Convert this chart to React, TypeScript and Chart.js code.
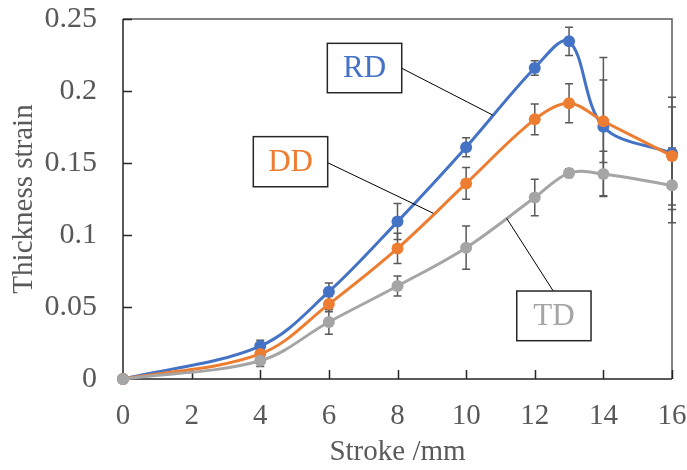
import React, { useEffect, useRef } from "react";
import { Chart, registerables } from "chart.js";

Chart.register(...registerables);

// ---- data ----
const strokeMm = [0, 4, 6, 8, 10, 12, 13, 14, 16];
const rdStrain = [0, 0.0229, 0.0606, 0.1093, 0.161, 0.216, 0.2345, 0.1752, 0.1567];
const ddStrain = [0, 0.0174, 0.052, 0.0907, 0.1358, 0.1803, 0.1915, 0.179, 0.1549];
const tdStrain = [0, 0.0127, 0.0396, 0.0646, 0.0912, 0.126, 0.143, 0.1424, 0.1345];
const rdError = [0, 0.004, 0.006, 0.0125, 0.0066, 0.005, 0.0098, 0.048, 0.039];
const ddError = [0, 0.002, 0.0053, 0.0105, 0.011, 0.0106, 0.0135, 0.0286, 0.034];
const tdError = [0, 0.004, 0.0085, 0.007, 0.015, 0.0127, 0.003, 0.0157, 0.026];
const seriesNames = ["RD", "DD", "TD"];
const xTickValues = [0, 2, 4, 6, 8, 10, 12, 14, 16];
const yTickValues = [0, 0.05, 0.1, 0.15, 0.2, 0.25];
const yTickLabels = ["0", "0.05", "0.1", "0.15", "0.2", "0.25"];
const xTitle = "Stroke /mm";
const yTitle = "Thickness strain";

// ---- styles ----
const COLORS = ["#4472C4", "#ED7D31", "#A5A5A5"];
const FONT = "'Liberation Serif', 'Times New Roman', serif";
const TEXT_COLOR = "#595959";

// annotation callouts (data coordinates)
const callouts = [
  { name: seriesNames[0], color: COLORS[0], box: [5.955, 0.2331, 8.123, 0.1988], line: [8.123, 0.2158, 10.775, 0.1833] },
  { name: seriesNames[1], color: COLORS[1], box: [3.798, 0.1683, 5.966, 0.1335], line: [5.966, 0.1502, 9.044, 0.1151] },
  { name: seriesNames[2], color: COLORS[2], box: [11.475, 0.0611, 13.64, 0.0266], line: [12.54, 0.0611, 11.18, 0.1116] },
];

const errorSets = [rdError, ddError, tdError];
const valueSets = [rdStrain, ddStrain, tdStrain];

const zeroPad = (s: any) => {
  s.paddingTop = 0;
  s.paddingBottom = 0;
  s.paddingLeft = 0;
  s.paddingRight = 0;
};

const framePlugin = {
  id: "frame",
  beforeDatasetsDraw(chart: any) {
    const { ctx, chartArea: a, scales } = chart;
    const xs = scales.x;
    const ys = scales.y;
    ctx.save();
    // top & right border
    ctx.strokeStyle = "#595959";
    ctx.lineWidth = 1.5;
    ctx.beginPath();
    ctx.moveTo(a.left, a.top);
    ctx.lineTo(a.right, a.top);
    ctx.lineTo(a.right, a.bottom);
    ctx.stroke();
    // axes
    ctx.strokeStyle = "#262626";
    ctx.lineWidth = 1.5;
    ctx.beginPath();
    ctx.moveTo(a.left, a.top);
    ctx.lineTo(a.left, a.bottom);
    ctx.lineTo(a.right, a.bottom);
    ctx.stroke();
    // inward ticks
    ctx.beginPath();
    yTickValues.forEach((v) => {
      if (v === 0) return;
      const y = Math.round(ys.getPixelForValue(v)) + 0.5;
      ctx.moveTo(a.left, y);
      ctx.lineTo(a.left + 9, y);
    });
    xTickValues.forEach((v) => {
      if (v === 0) return;
      const x = Math.round(xs.getPixelForValue(v)) + 0.5;
      ctx.moveTo(x, a.bottom);
      ctx.lineTo(x, a.bottom - 9);
    });
    ctx.stroke();
    // error bars
    ctx.strokeStyle = "#595959";
    ctx.lineWidth = 1.5;
    valueSets.forEach((vals, si) => {
      const errs = errorSets[si];
      vals.forEach((v, i) => {
        const e = errs[i];
        if (!e) return;
        const x = xs.getPixelForValue(strokeMm[i]);
        const y1 = ys.getPixelForValue(v + e);
        const y2 = ys.getPixelForValue(v - e);
        ctx.beginPath();
        ctx.moveTo(x, y1);
        ctx.lineTo(x, y2);
        ctx.moveTo(x - 4, y1);
        ctx.lineTo(x + 4, y1);
        ctx.moveTo(x - 4, y2);
        ctx.lineTo(x + 4, y2);
        ctx.stroke();
      });
    });
    ctx.restore();
  },
  afterDatasetsDraw(chart: any) {
    const { ctx, scales } = chart;
    const xs = scales.x;
    const ys = scales.y;
    ctx.save();
    callouts.forEach((c) => {
      // leader line
      ctx.strokeStyle = "#000000";
      ctx.lineWidth = 1;
      ctx.beginPath();
      ctx.moveTo(xs.getPixelForValue(c.line[0]), ys.getPixelForValue(c.line[1]));
      ctx.lineTo(xs.getPixelForValue(c.line[2]), ys.getPixelForValue(c.line[3]));
      ctx.stroke();
      // box
      const x1 = xs.getPixelForValue(c.box[0]);
      const y1 = ys.getPixelForValue(c.box[1]);
      const x2 = xs.getPixelForValue(c.box[2]);
      const y2 = ys.getPixelForValue(c.box[3]);
      ctx.fillStyle = "#ffffff";
      ctx.fillRect(x1, y1, x2 - x1, y2 - y1);
      ctx.strokeStyle = "#262626";
      ctx.lineWidth = 1.5;
      ctx.strokeRect(x1, y1, x2 - x1, y2 - y1);
      ctx.fillStyle = c.color;
      ctx.font = `31px ${FONT}`;
      ctx.textAlign = "center";
      ctx.textBaseline = "middle";
      ctx.fillText(c.name, (x1 + x2) / 2, (y1 + y2) / 2 + 1);
    });
    ctx.restore();
  },
};

export default function App() {
  const canvasRef = useRef<HTMLCanvasElement | null>(null);

  useEffect(() => {
    if (!canvasRef.current) return;
    const mk = (vals: number[]) => vals.map((v, i) => ({ x: strokeMm[i], y: v }));
    const orders = [3, 2, 1];
    const chart = new Chart(canvasRef.current, {
      type: "line",
      data: {
        datasets: valueSets.map((vals, i) => ({
          label: seriesNames[i],
          data: mk(vals),
          borderColor: COLORS[i],
          backgroundColor: COLORS[i],
          borderWidth: 3,
          pointRadius: 6,
          pointBorderWidth: 0,
          pointBackgroundColor: COLORS[i],
          tension: 0.35,
          fill: false,
          clip: false as any,
          order: orders[i],
        })),
      },
      options: {
        animation: false,
        responsive: false,
        maintainAspectRatio: false,
        layout: { padding: { left: 0, top: 19, right: 15, bottom: 0 } },
        plugins: {
          legend: { display: false },
          tooltip: { enabled: false },
        },
        scales: {
          x: {
            type: "linear",
            min: 0,
            max: 16,
            grid: { display: false, drawTicks: false },
            border: { display: false },
            afterBuildTicks: (s: any) => {
              s.ticks = xTickValues.map((v) => ({ value: v }));
            },
            afterFit: (s: any) => {
              s.height = 91;
              zeroPad(s);
            },
            ticks: {
              padding: 20,
              color: TEXT_COLOR,
              font: { family: FONT, size: 29 },
              maxRotation: 0,
              callback: (v: any) => String(v),
            },
            title: {
              display: true,
              text: xTitle,
              color: TEXT_COLOR,
              font: { family: FONT, size: 29 },
              padding: { top: 0, bottom: 0 },
            },
          },
          y: {
            type: "linear",
            min: 0,
            max: 0.25,
            grid: { display: false, drawTicks: false },
            border: { display: false },
            afterBuildTicks: (s: any) => {
              s.ticks = yTickValues.map((v) => ({ value: v }));
            },
            afterFit: (s: any) => {
              s.width = 123;
              zeroPad(s);
            },
            ticks: {
              padding: 26,
              color: TEXT_COLOR,
              font: { family: FONT, size: 30 },
              callback: (v: any) => {
                const idx = yTickValues.findIndex((t) => Math.abs(t - v) < 1e-9);
                return idx >= 0 ? yTickLabels[idx] : "";
              },
            },
            title: {
              display: true,
              text: yTitle,
              color: TEXT_COLOR,
              font: { family: FONT, size: 29 },
              padding: { top: 7, bottom: 0 },
            },
          },
        },
      },
      plugins: [framePlugin],
    } as any);
    return () => chart.destroy();
  }, []);

  return (
    <div style={{ position: "absolute", left: 0, top: 0, width: 687, height: 470, background: "#fff" }}>
      <canvas ref={canvasRef} width={687} height={470} style={{ display: "block" }} />
    </div>
  );
}
